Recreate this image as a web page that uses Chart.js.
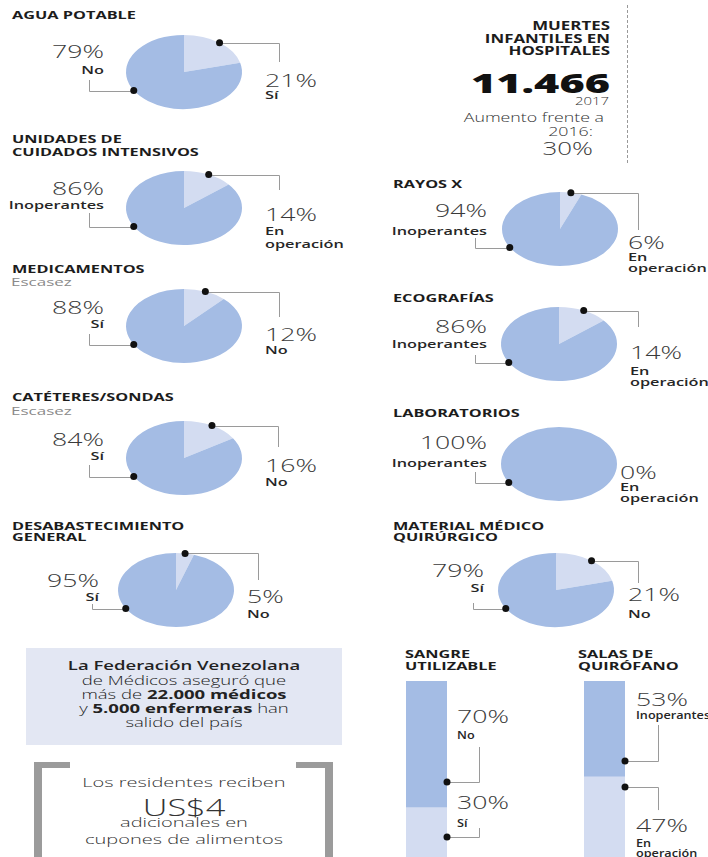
<!DOCTYPE html>
<html>
<head>
<meta charset="utf-8">
<script src="https://cdn.jsdelivr.net/npm/chart.js@4.4.1/dist/chart.umd.min.js"></script>
<style>
    html, body { margin: 0; padding: 0; background: #fff; }
    body { width: 708px; height: 857px; position: relative; overflow: hidden; font-family: "Open Sans", "DejaVu Sans", sans-serif; }
    .t { position: absolute; white-space: nowrap; line-height: 1; }
    .t b { font-weight: 700; }
    canvas { position: absolute; }
    .box { position: absolute; left: 26px; top: 648px; width: 316px; height: 97px; background: #e3e7f3; }
    .dash { position: absolute; left: 627px; top: 5px; height: 158px; border-left: 1px dashed #999; }
    .brk { position: absolute; top: 762px; height: 120px; box-sizing: border-box; border-top: 6px solid #9b9b9b; }
</style>
</head>
<body>
<div class="box"></div>
<div class="dash"></div>
<div class="brk" style="left:34px;width:36px;border-left:8px solid #9b9b9b;"></div>
<div class="brk" style="left:296px;width:37px;border-right:8px solid #9b9b9b;"></div>
<script>
    // pie panels
    const pieTitles = [["AGUA POTABLE"], ["UNIDADES DE", "CUIDADOS INTENSIVOS"], ["MEDICAMENTOS"], ["CATÉTERES/SONDAS"], ["DESABASTECIMIENTO", "GENERAL"],
        ["RAYOS X"], ["ECOGRAFÍAS"], ["LABORATORIOS"], ["MATERIAL MÉDICO", "QUIRÚRGICO"]];
    const pieNotes = ["", "", "Escasez", "Escasez", "", "", "", "", ""];
    const minorShare = [21, 14, 12, 16, 5, 6, 14, 0, 21];
    const majorShare = [79, 86, 88, 84, 95, 94, 86, 100, 79];
    const minorNames = ["Sí", "En operación", "No", "No", "No", "En operación", "En operación", "En operación", "No"];
    const majorNames = ["No", "Inoperantes", "Sí", "Sí", "Sí", "Inoperantes", "Inoperantes", "Inoperantes", "Sí"];

    // stacked columns
    const barTitles = [["SANGRE", "UTILIZABLE"], ["SALAS DE", "QUIRÓFANO"]];
    const barLower = [30, 47];
    const barUpper = [70, 53];
    const barLowerNames = ["Sí", "En operación"];
    const barUpperNames = ["No", "Inoperantes"];

    const DARK = "#a4bce4";
    const LIGHT = "#d3dcf1";
    const LINE = "#9a9a9a";
    const DOT = "#111";
    const SX = 1.48;
    const PIE_R = 37;
    const PIE_SX = 58 / 37;
    const MAJOR_DOT_DEG = 150;

    const pieLayout = [
        { cx: 184, cy: 72, tx: 12, ty: [14], lx: 104, lp: 51, ln: [69], rx: 265, rp: 80, rn: [94], L: [-95, 8], R: [95, -10] },
        { cx: 184, cy: 208, tx: 12, ty: [138, 151], lx: 104, lp: 187.5, ln: [204], rx: 265, rp: 214, rn: [230, 243], L: [-95, 5], R: [95, -18] },
        { cx: 184, cy: 326, tx: 12, ty: [268], ny: 282, lx: 104, lp: 306.5, ln: [323], rx: 265, rp: 333.5, rn: [349], L: [-95, 8], R: [95, -9] },
        { cx: 184, cy: 458, tx: 12, ty: [396], ny: 411, lx: 104, lp: 438.5, ln: [455], rx: 265, rp: 464.5, rn: [481], L: [-95, 7], R: [94, -11] },
        { cx: 176, cy: 590, tx: 12, ty: [525, 536], lx: 99, lp: 580, ln: [596], rx: 247, rp: 596, rn: [613], L: [-84, 14], R: [82, -10] },
        { cx: 560, cy: 229, tx: 393, ty: [183], lx: 487, lp: 210, ln: [230], rx: 628, rp: 241.5, rn: [256, 267], L: [-85, 9], R: [78, 1] },
        { cx: 559, cy: 344, tx: 393, ty: [297], lx: 487, lp: 326, ln: [343], rx: 630, rp: 351.5, rn: [370, 381], L: [-84, 11], R: [79, -17] },
        { cx: 559, cy: 464, tx: 393, ty: [412], lx: 487, lp: 441.5, ln: [462], rx: 620, rp: 471.5, rn: [486, 497], L: [-84, 8], R: null },
        { cx: 556, cy: 590, tx: 393, ty: [525, 536], lx: 484, lp: 570, ln: [587], rx: 628, rp: 593.5, rn: [613], L: [-83, 13], R: [82, -7] }
    ];

    const barLayout = [
        { x: 406, top: 681, tx: 405, ty: [653, 665], textX: 457,
          upper: { at: 44.2, dx: 32, dy: -35, py: 715.5, ny: [734] },
          lower: { at: 13.8, dx: 32, dy: -9, py: 801.5, ny: [822] } },
        { x: 584, top: 681, tx: 578, ty: [653, 665], textX: 636,
          upper: { at: 55.8, dx: 33, dy: -36, py: 698.5, ny: [714] },
          lower: { at: 41.4, dx: 33, dy: 23, py: 825, ny: [842, 852] } }
    ];

    const txt = (html, x, y, o = {}) => {
        const el = document.createElement("div");
        el.className = "t";
        el.innerHTML = html;
        const align = o.align || "left";
        el.style.left = x + "px";
        el.style.top = y + "px";
        el.style.fontSize = (o.size || 11) + "px";
        el.style.fontWeight = o.weight || 400;
        el.style.color = o.color || "#222";
        const tx = align === "left" ? "0" : align === "right" ? "-100%" : "-50%";
        el.style.transformOrigin = (align === "left" ? "0" : align === "right" ? "100%" : "50%") + " 50%";
        el.style.transform = `translate(${tx}, -50%) scaleX(${o.sx || SX})`;
        document.body.appendChild(el);
    };

    const title = (s, x, y) => txt(s, x, y, { size: 11, weight: 700, color: "#1c1c1c" });
    const pct = (v, x, y, align) => txt(v + "%", x, y, { size: 18, weight: 300, color: "#3a3a3a", align });
    const name = (s, x, y, align, sx) => txt(s, x, y, { size: 11, weight: 600, color: "#262626", align, sx });

    const crisp = (v) => Math.round(v) + 0.5;

    const dot = (ctx, x, y) => {
        ctx.fillStyle = DOT;
        ctx.beginPath();
        ctx.arc(x, y, 3.5, 0, Math.PI * 2);
        ctx.fill();
    };

    const elbow = (ctx, x0, y0, x1, y1) => {
        ctx.strokeStyle = LINE;
        ctx.lineWidth = 1;
        ctx.beginPath();
        ctx.moveTo(x0, crisp(y0));
        ctx.lineTo(crisp(x1), crisp(y0));
        ctx.lineTo(crisp(x1), y1);
        ctx.stroke();
    };

    const ellipsePlugin = {
        id: "ellipse",
        beforeDatasetsDraw(chart) {
            const c = chart.getDatasetMeta(0).data[0];
            const ctx = chart.ctx;
            ctx.save();
            ctx.translate(c.x, c.y);
            ctx.scale(PIE_SX, 1);
            ctx.translate(-c.x, -c.y);
        },
        afterDatasetsDraw(chart) {
            chart.ctx.restore();
        }
    };

    const pieLeaders = (lay) => ({
        id: "leaders",
        afterDraw(chart) {
            const ctx = chart.ctx;
            const arcs = chart.getDatasetMeta(0).data;
            const c = arcs[0];
            const R = c.outerRadius;
            const pt = (a) => [c.x + PIE_SX * R * Math.cos(a), c.y + R * Math.sin(a)];
            ctx.save();
            const [bx, by] = pt(MAJOR_DOT_DEG * Math.PI / 180);
            elbow(ctx, bx, by, c.x + lay.L[0], c.y + lay.L[1]);
            dot(ctx, bx, by);
            if (lay.R && c.circumference > 0) {
                const [sx, sy] = pt((c.startAngle + c.endAngle) / 2);
                elbow(ctx, sx, sy, c.x + lay.R[0], c.y + lay.R[1]);
                dot(ctx, sx, sy);
            }
            ctx.restore();
        }
    });

    pieLayout.forEach((lay, i) => {
        pieTitles[i].forEach((s, k) => title(s, lay.tx, lay.ty[k]));
        if (pieNotes[i]) {
            txt(pieNotes[i], lay.tx - 1, lay.ny, { size: 11.5, color: "#8a8a8a" });
        }
        pct(majorShare[i], lay.lx, lay.lp, "right");
        name(majorNames[i], lay.lx, lay.ln[0], "right");
        pct(minorShare[i], lay.rx, lay.rp, "left");
        const parts = lay.rn.length > 1 ? minorNames[i].split(" ") : [minorNames[i]];
        parts.forEach((s, k) => name(s, lay.rx, lay.rn[k], "left"));

        const cv = document.createElement("canvas");
        cv.width = 240;
        cv.height = 100;
        cv.style.left = (lay.cx - 120) + "px";
        cv.style.top = (lay.cy - 50) + "px";
        document.body.appendChild(cv);
        new Chart(cv, {
            type: "pie",
            data: {
                labels: [minorNames[i], majorNames[i]],
                datasets: [{
                    data: [minorShare[i], majorShare[i]],
                    backgroundColor: [LIGHT, DARK],
                    borderWidth: 0,
                    hoverOffset: 0,
                    clip: false
                }]
            },
            options: {
                responsive: false,
                animation: false,
                events: [],
                radius: PIE_R,
                layout: { padding: 13 },
                plugins: { legend: { display: false }, tooltip: { enabled: false } }
            },
            plugins: [ellipsePlugin, pieLeaders(lay)]
        });
    });

    const barLeaders = (lay) => ({
        id: "barLeaders",
        afterDraw(chart) {
            const ctx = chart.ctx;
            const bar = chart.getDatasetMeta(0).data[0];
            const right = bar.x + bar.width / 2;
            const y = chart.scales.y;
            ctx.save();
            [lay.upper, lay.lower].forEach((p) => {
                const py = y.getPixelForValue(p.at);
                elbow(ctx, right, py, right + p.dx, py + p.dy);
                dot(ctx, right, py);
            });
            ctx.restore();
        }
    });

    barLayout.forEach((lay, i) => {
        barTitles[i].forEach((s, k) => title(s, lay.tx, lay.ty[k]));
        pct(barUpper[i], lay.textX, lay.upper.py, "left");
        name(barUpperNames[i], lay.textX, lay.upper.ny[0], "left", 1.15);
        pct(barLower[i], lay.textX, lay.lower.py, "left");
        const parts = lay.lower.ny.length > 1 ? barLowerNames[i].split(" ") : [barLowerNames[i]];
        parts.forEach((s, k) => name(s, lay.textX, lay.lower.ny[k], "left", 1.15));

        const cv = document.createElement("canvas");
        cv.width = 81;
        cv.height = 181;
        cv.style.left = lay.x + "px";
        cv.style.top = lay.top + "px";
        document.body.appendChild(cv);
        new Chart(cv, {
            type: "bar",
            data: {
                labels: [""],
                datasets: [
                    { data: [barLower[i]], backgroundColor: LIGHT },
                    { data: [barUpper[i]], backgroundColor: DARK }
                ]
            },
            options: {
                responsive: false,
                animation: false,
                events: [],
                layout: { padding: { right: 40 } },
                datasets: { bar: { barPercentage: 1, categoryPercentage: 1, borderWidth: 0 } },
                plugins: { legend: { display: false }, tooltip: { enabled: false } },
                scales: {
                    x: { display: false, stacked: true },
                    y: { display: false, stacked: true, min: 0, max: 100 }
                }
            },
            plugins: [barLeaders(lay)]
        });
    });

    // muertes block
    const head = { size: 12.5, weight: 700, color: "#1c1c1c", align: "right", sx: 1.35 };
    txt("MUERTES", 610, 26, head);
    txt("INFANTILES EN", 610, 39, head);
    txt("HOSPITALES", 610, 51, head);
    txt("11.466", 610, 82, { size: 27, weight: 800, color: "#111", align: "right", sx: 1.6 });
    txt("2017", 609, 101, { size: 10.5, weight: 300, color: "#333", align: "right", sx: 1.42 });
    txt("Aumento frente a", 604, 118, { size: 12, weight: 300, color: "#333", align: "right" });
    txt("2016:", 593, 132, { size: 12, weight: 300, color: "#333", align: "right" });
    txt("30%", 593, 148, { size: 18.5, weight: 300, color: "#3a3a3a", align: "right", sx: 1.4 });

    // notes
    const boxLine = { size: 12.5, weight: 300, color: "#222", align: "center" };
    txt("La Federación Venezolana", 184, 666, { ...boxLine, weight: 600 });
    txt("de Médicos aseguró que", 184, 681, boxLine);
    txt("más de <b>22.000 médicos</b>", 184, 695, boxLine);
    txt("y <b>5.000 enfermeras</b> han", 184, 709, boxLine);
    txt("salido del país", 184, 723, boxLine);

    const bLine = { size: 13.5, weight: 300, color: "#333", align: "center" };
    txt("Los residentes reciben", 184, 783, bLine);
    txt("US$4", 184, 807, { ...bLine, size: 24, sx: 1.43 });
    txt("adicionales en", 184, 823, bLine);
    txt("cupones de alimentos", 184, 840, bLine);
</script>
</body>
</html>
